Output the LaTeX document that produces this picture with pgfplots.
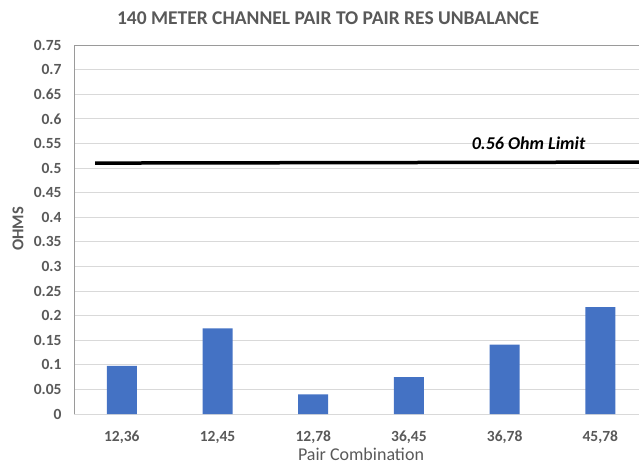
\documentclass[border=0pt]{standalone}
\usepackage{pgfplots}
\pgfplotsset{compat=1.18}
\usepackage{fontspec}
\setmainfont{Carlito}
\definecolor{barblue}{HTML}{4472C4}
\definecolor{txtgray}{HTML}{595959}
\definecolor{gridgray}{HTML}{D9D9D9}
\definecolor{axgray}{HTML}{9A9A9A}
\begin{document}
\begin{tikzpicture}
\useasboundingbox (0,0) rectangle (639pt,466pt);
\begin{axis}[
  at={(74pt,52pt)}, anchor=south west,
  scale only axis=true,
  width=565pt, height=369pt,
  xmin=-0.5, xmax=5.404,
  ymin=0, ymax=0.75,
  xtick={0,1,2,3,4,5},
  xticklabels={{12,36},{12,45},{12,78},{36,45},{36,78},{45,78}},
  ytick={0,0.05,0.1,0.15,0.2,0.25,0.3,0.35,0.4,0.45,0.5,0.55,0.6,0.65,0.7,0.75},
  yticklabels={0,0.05,0.1,0.15,0.2,0.25,0.3,0.35,0.4,0.45,0.5,0.55,0.6,0.65,0.7,0.75},
  extra y ticks={0.75}, extra y tick labels={},
  extra y tick style={grid style={color=axgray, line width=1pt}},
  major tick length=0pt,
  ymajorgrids=true,
  grid style={color=gridgray, line width=0.8pt},
  axis x line*=bottom, axis y line*=left,
  x axis line style={color=gridgray, line width=0.8pt, -},
  y axis line style={color=axgray, line width=1pt, -},
  tick label style={font=\fontsize{15.5}{17}\selectfont\bfseries, text=txtgray},
  yticklabel style={anchor=east, xshift=-9pt},
  xticklabel style={anchor=base, yshift=-27.5pt},
  clip=true,
]
\addplot[ybar, bar width=30pt, fill=barblue, draw=none, bar shift=0pt]
  coordinates {(0,0.098) (1,0.174) (2,0.040) (3,0.075) (4,0.141) (5,0.217)};
\addplot[black, line width=3.5pt] coordinates {(-0.28,0.510) (5.404,0.512)};
\node[font=\fontsize{18}{20}\selectfont\bfseries\itshape, text=black] at (axis cs:4.25,0.551) {0.56 Ohm Limit};
\end{axis}
\node[font=\fontsize{19.5}{22}\selectfont\bfseries, text=txtgray] at (328pt,448pt) {140 METER CHANNEL PAIR TO PAIR RES UNBALANCE};
\node[font=\fontsize{16.5}{18}\selectfont\bfseries, text=txtgray, rotate=90] at (18pt,237pt) {OHMS};
\node[font=\fontsize{18}{20}\selectfont, text=txtgray] at (361pt,12pt) {Pair Combination};
\end{tikzpicture}
\end{document}
